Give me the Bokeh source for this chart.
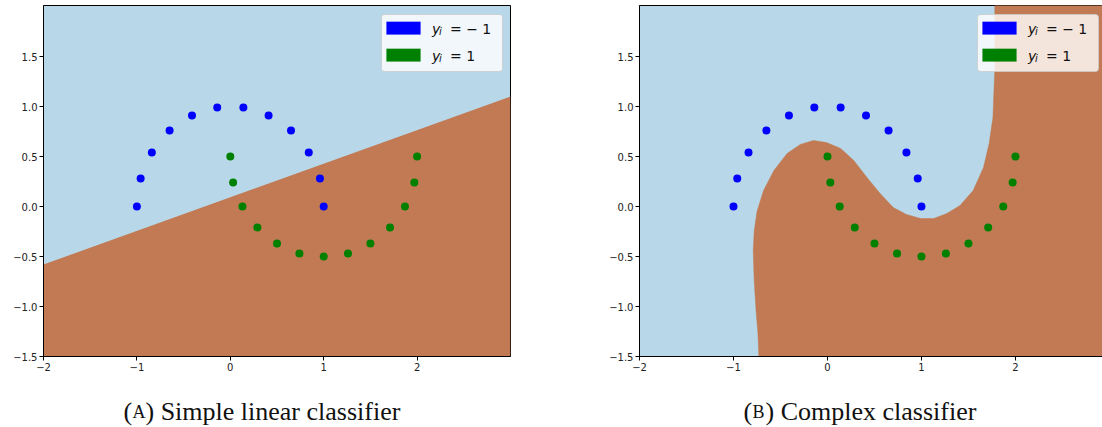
from bokeh.plotting import figure
from bokeh.models import Range1d, FixedTicker, Label, BoxAnnotation
from bokeh.layouts import row, column
from bokeh.embed import file_html
from bokeh.resources import INLINE

# ---------------- data ----------------
blue_x = [-1.0, -0.96, -0.84, -0.65, -0.41, -0.14, 0.14, 0.41, 0.65, 0.84, 0.96, 1.0]
blue_y = [0.0, 0.28, 0.54, 0.76, 0.91, 0.99, 0.99, 0.91, 0.76, 0.54, 0.28, 0.0]
green_x = [0.0, 0.03, 0.13, 0.29, 0.5, 0.74, 1.0, 1.26, 1.5, 1.71, 1.87, 1.97, 2.0]
green_y = [0.5, 0.24, 0.0, -0.21, -0.37, -0.47, -0.5, -0.47, -0.37, -0.21, 0.0, 0.24, 0.5]

# linear decision boundary (panel A)
linear_x = [-2.0, 3.0]
linear_y = [-0.58, 1.10]

# complex decision boundary (panel B), traced from bottom-left to top-right
complex_x = [-0.73, -0.74, -0.76, -0.78, -0.79, -0.78, -0.75, -0.68, -0.57, -0.43,
             -0.29, -0.15, -0.01, 0.14, 0.28, 0.42, 0.56, 0.70, 0.84, 0.99,
             1.13, 1.27, 1.41, 1.55, 1.66, 1.72, 1.76, 1.77, 1.78, 1.78]
complex_y = [-1.5, -1.27, -1.04, -0.74, -0.44, -0.25, -0.05, 0.16, 0.36, 0.53,
             0.62, 0.66, 0.64, 0.58, 0.46, 0.29, 0.13, -0.01, -0.08, -0.12,
             -0.12, -0.07, 0.01, 0.16, 0.39, 0.63, 0.89, 1.13, 1.36, 2.01]

x_ticks = [-2, -1, 0, 1, 2]
x_tick_labels = ["\u22122", "\u22121", "0", "1", "2"]
y_ticks = [-1.5, -1.0, -0.5, 0.0, 0.5, 1.0, 1.5]
y_tick_labels = ["\u22121.5", "\u22121.0", "\u22120.5", "0.0", "0.5", "1.0", "1.5"]

legend_labels = [("\u2212 1", "blue"), ("1", "green")]
captions = [("A", "Simple linear classifier"), ("B", "Complex classifier")]

X_MIN, Y_MIN, Y_MAX = -2.0, -1.5, 2.01
X_MAX_A, X_MAX_B = 3.0, 2.926

LIGHT_BLUE = "#b8d8e9"
BROWN = "#c17a53"
FRAME_H = 351
TOP = 5
MAIN_H = 381
CAP_H = 45


def make_panel(x_max, width, border_left, border_right):
    p = figure(width=width, height=MAIN_H, x_range=Range1d(X_MIN, x_max),
               y_range=Range1d(Y_MIN, Y_MAX), output_backend="svg",
               toolbar_location=None, min_border_left=border_left,
               min_border_right=border_right, min_border_top=TOP,
               min_border_bottom=MAIN_H - FRAME_H - TOP)
    p.background_fill_color = LIGHT_BLUE
    p.border_fill_color = "white"
    p.outline_line_color = "black"
    p.outline_line_width = 1
    p.xgrid.visible = False
    p.ygrid.visible = False
    for ax, ticks, labels in ((p.xaxis[0], x_ticks, x_tick_labels),
                              (p.yaxis[0], y_ticks, y_tick_labels)):
        ax.ticker = FixedTicker(ticks=ticks)
        ax.major_label_overrides = {t: l for t, l in zip(ticks, labels)}
        ax.major_label_text_font = "DejaVu Sans"
        ax.major_label_text_font_size = "10px"
        ax.major_label_text_color = "#222222"
        ax.axis_line_color = "black"
        ax.major_tick_line_color = "black"
        ax.major_tick_out = 4
        ax.major_tick_in = 0
        ax.minor_tick_line_color = None
        ax.major_label_standoff = 2
    return p


def add_legend(p):
    p.add_layout(BoxAnnotation(left=338, right=459, top=342, bottom=285,
                               left_units="screen", right_units="screen",
                               top_units="screen", bottom_units="screen",
                               fill_color="white", fill_alpha=0.8,
                               line_color="#cccccc", line_alpha=0.8, line_width=1,
                               border_radius=3))
    for i, (rhs, col) in enumerate(legend_labels):
        top = 334.7 - 27 * i
        p.add_layout(BoxAnnotation(left=343, right=377, top=top, bottom=top - 12.7,
                                   left_units="screen", right_units="screen",
                                   top_units="screen", bottom_units="screen",
                                   fill_color=col, fill_alpha=1.0,
                                   line_color=col, line_width=0.5))
        base = top - 7
        p.add_layout(Label(x=388.5, y=base, x_units="screen", y_units="screen",
                           text="y", text_font="DejaVu Sans", text_font_style="italic",
                           text_font_size="14px", text_color="#111111",
                           text_baseline="alphabetic"))
        p.add_layout(Label(x=395.5, y=base - 3, x_units="screen", y_units="screen",
                           text="i", text_font="DejaVu Sans", text_font_style="italic",
                           text_font_size="10px", text_color="#111111",
                           text_baseline="alphabetic"))
        p.add_layout(Label(x=406.5, y=base, x_units="screen", y_units="screen",
                           text="= " + rhs, text_font="DejaVu Sans",
                           text_font_size="14px", text_color="#111111",
                           text_baseline="alphabetic"))


def make_caption(width, x0, letter, rest):
    c = figure(width=width, height=CAP_H, x_range=Range1d(0, width),
               y_range=Range1d(0, CAP_H), output_backend="svg",
               toolbar_location=None, min_border=0)
    c.axis.visible = False
    c.grid.visible = False
    c.outline_line_color = None
    c.background_fill_color = "white"
    common = dict(y=15, x_units="screen", y_units="screen", text_font="Liberation Serif",
                  text_color="#111111", text_baseline="alphabetic")
    c.add_layout(Label(x=x0, text="(", text_font_size="26px", **common))
    c.add_layout(Label(x=x0 + 9, text=letter, text_font_size="18px", **common))
    c.add_layout(Label(x=x0 + 22, text=") " + rest, text_font_size="26px", **common))
    return c


# ---------------- panel A ----------------
pa = make_panel(X_MAX_A, 560, 43, 50)
pa.varea(x=linear_x, y1=[Y_MIN, Y_MIN], y2=linear_y, fill_color=BROWN)
pa.scatter(blue_x, blue_y, size=8, color="blue", line_color=None)
pa.scatter(green_x, green_y, size=8, color="green", line_color=None)
add_legend(pa)

# ---------------- panel B ----------------
pb = make_panel(X_MAX_B, 542, 79, 0)
pb.patch(complex_x + [X_MAX_B, X_MAX_B], complex_y + [Y_MAX, Y_MIN],
         fill_color=BROWN, line_color=BROWN, line_width=0.5)
pb.scatter(blue_x, blue_y, size=8, color="blue", line_color=None)
pb.scatter(green_x, green_y, size=8, color="green", line_color=None)
add_legend(pb)

ca = make_caption(560, 123, captions[0][0], captions[0][1])
cb = make_caption(542, 183, captions[1][0], captions[1][1])

layout = column(row(pa, pb), row(ca, cb))

open("out.html", "w").write(file_html(layout, INLINE))
